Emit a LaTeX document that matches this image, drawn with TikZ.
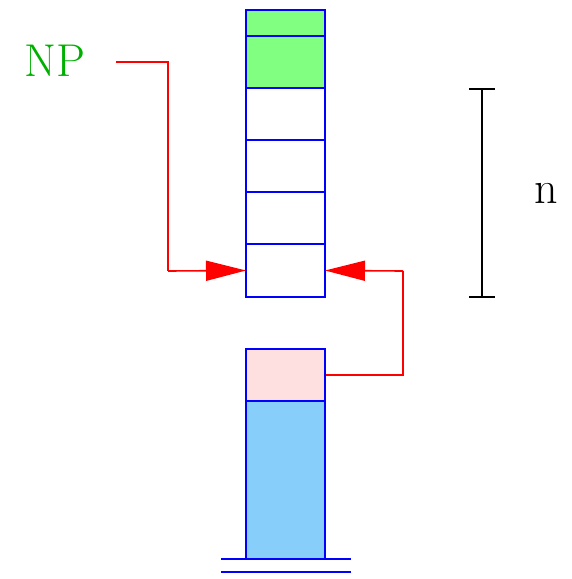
\documentclass[tikz,border=0pt]{standalone}
\usetikzlibrary{arrows.meta}
\definecolor{cellblue}{RGB}{0,0,255}
\definecolor{cellgreen}{RGB}{128,255,128}
\definecolor{cellpink}{RGB}{255,224,224}
\definecolor{cellsky}{RGB}{135,206,250}
\definecolor{npgreen}{RGB}{0,176,0}
\definecolor{linkred}{RGB}{255,0,0}
\tikzset{
  cell/.style={draw=cellblue, line width=2pt, minimum width=79pt, inner sep=0pt, anchor=center},
  link/.style={draw=linkred, line width=1.6pt, -{Triangle[length=40pt,width=20pt]}, shorten >=-1pt},
  plain/.style={draw=linkred, line width=1.6pt},
  bigtext/.style={font=\fontsize{46}{52}\selectfont, inner sep=0pt},
}
\begin{document}
\begin{tikzpicture}[x=1pt,y=-1pt]
\useasboundingbox (0,0) rectangle (571,579);
% top stack
\node[cell, fill=cellgreen, minimum height=26pt] (c0) at (285.5,23) {};
\node[cell, fill=cellgreen, minimum height=52pt] (c1) at (285.5,62) {};
\node[cell, fill=white, minimum height=52pt] (c2) at (285.5,114) {};
\node[cell, fill=white, minimum height=52pt] (c3) at (285.5,166) {};
\node[cell, fill=white, minimum height=52pt] (c4) at (285.5,218) {};
\node[cell, fill=white, minimum height=53pt] (c5) at (285.5,270.5) {};
% bottom stack
\node[cell, fill=cellpink, minimum height=52pt] (pink) at (285.5,375) {};
\node[cell, fill=cellsky, minimum height=158pt] (sky) at (285.5,480) {};
\draw[cellblue, line width=2pt] (221,559) -- (351,559);
\draw[cellblue, line width=2pt] (221,572) -- (351,572);
% NP pointer
\node[bigtext, text=npgreen] (np) at (55,61) {NP};
\coordinate (npout) at (116,62);
\draw[plain] (npout) -- (168,62) -- (168,271);
\draw[link] (168,271) -- (c5.west);
% right link
\draw[plain] (pink.east) -- (403,375) -- (403,271);
\draw[link] (403,271) -- (c5.east);
% measure bar
\coordinate (mtop) at (482,89);
\coordinate (mbot) at (482,297);
\draw[black, line width=1.6pt] (mtop) -- (mbot);
\draw[black, line width=1.6pt] ([xshift=-13pt]mtop) -- ([xshift=13pt]mtop);
\draw[black, line width=1.6pt] ([xshift=-13pt]mbot) -- ([xshift=13pt]mbot);
\node[bigtext] (n) at (546,193) {n};
\end{tikzpicture}
\end{document}
